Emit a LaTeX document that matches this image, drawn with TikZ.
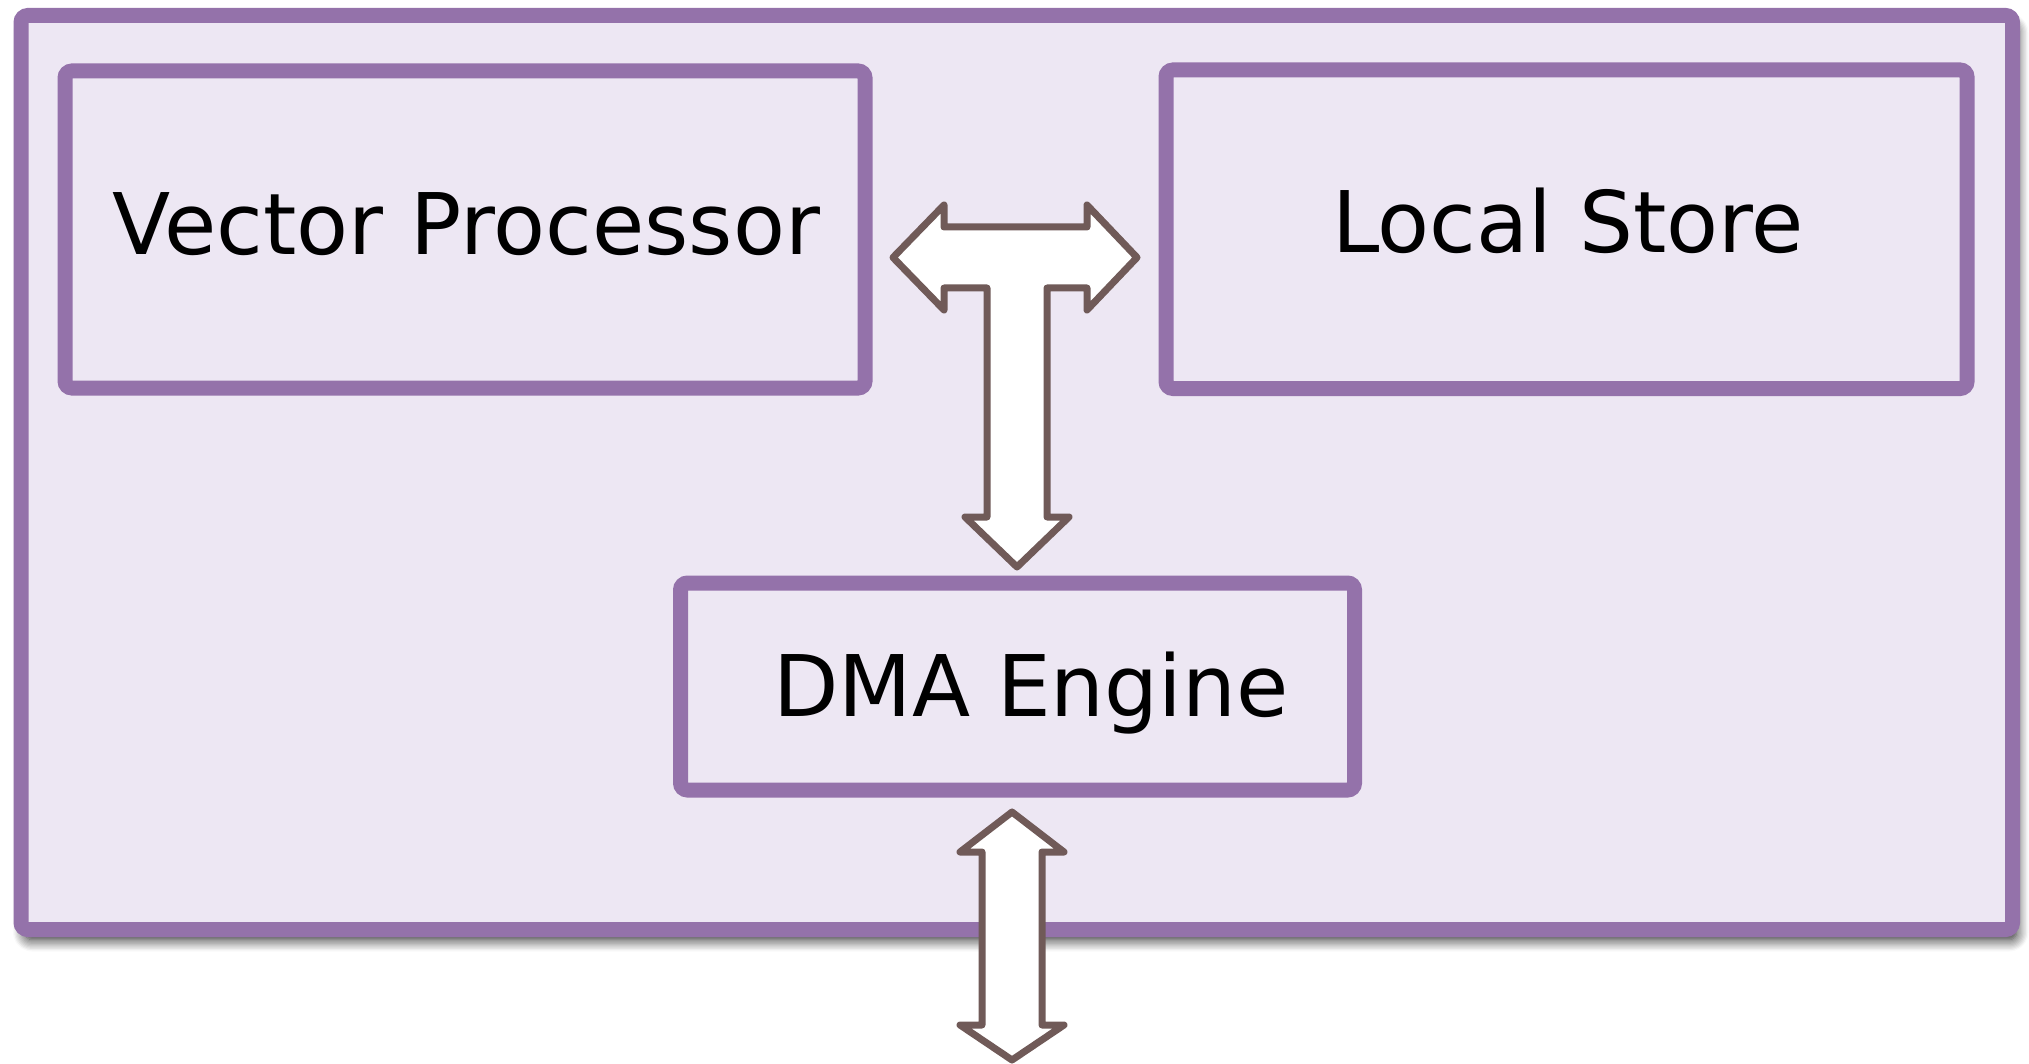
\documentclass[tikz,border=0pt]{standalone}
\usepackage{fontspec}
\setmainfont{DejaVu Sans}
\usetikzlibrary{shadows.blur}
\definecolor{boxpurple}{RGB}{148,114,170}
\definecolor{boxfill}{RGB}{237,231,243}
\definecolor{arrowline}{RGB}{112,90,88}
\begin{document}
\begin{tikzpicture}[x=0.5pt,y=-0.5pt,
  unitbox/.style={draw=boxpurple,line width=7.5pt,fill=boxfill,rounded corners=3.5pt,inner sep=0pt,outer sep=0pt},
  boxlabel/.style={anchor=base,inner sep=0pt,font=\fontsize{42.5pt}{50pt}\selectfont,text=black},
  blockarrow/.style={draw=arrowline,line width=3.5pt,fill=white,line join=round}]
\useasboundingbox (0,0) rectangle (2029,1064);
\node[unitbox,minimum width=995.75pt,minimum height=457pt,
  blur shadow={shadow xshift=2pt,shadow yshift=-5pt,shadow blur radius=6pt,shadow opacity=90,shadow blur steps=10}]
  (outer) at (1016.75,472.5) {};
\node[unitbox,fill=none,minimum width=400pt,minimum height=158.5pt] (vp) at (465,229.5) {};
\node[unitbox,fill=none,minimum width=400.5pt,minimum height=159.25pt] (ls) at (1566.5,229.25) {};
\node[unitbox,fill=none,minimum width=337pt,minimum height=103.5pt] (dma) at (1017.5,686.5) {};
\node[boxlabel] (vptext) at (466.5,255) {Vector Processor};
\node[boxlabel] (lstext) at (1568,253) {Local Store};
\node[boxlabel] (dmatext) at (1031,716) {DMA Engine};
% T-shaped arrow between Vector Processor, Local Store and DMA Engine
\draw[blockarrow] (893,257.5) -- (944,205) -- (944,227) -- (1087,227) -- (1087,205)
  -- (1137,257.5) -- (1087,310) -- (1087,288) -- (1047,288) -- (1047,517)
  -- (1069,517) -- (1017,567) -- (965,517) -- (987,517) -- (987,288)
  -- (944,288) -- (944,310) -- cycle;
% arrow from DMA Engine to outside
\draw[blockarrow] (1012,812) -- (1064,852) -- (1042,852) -- (1042,1025) -- (1064,1025)
  -- (1012,1060) -- (960,1025) -- (982,1025) -- (982,852) -- (960,852) -- cycle;
\end{tikzpicture}
\end{document}
